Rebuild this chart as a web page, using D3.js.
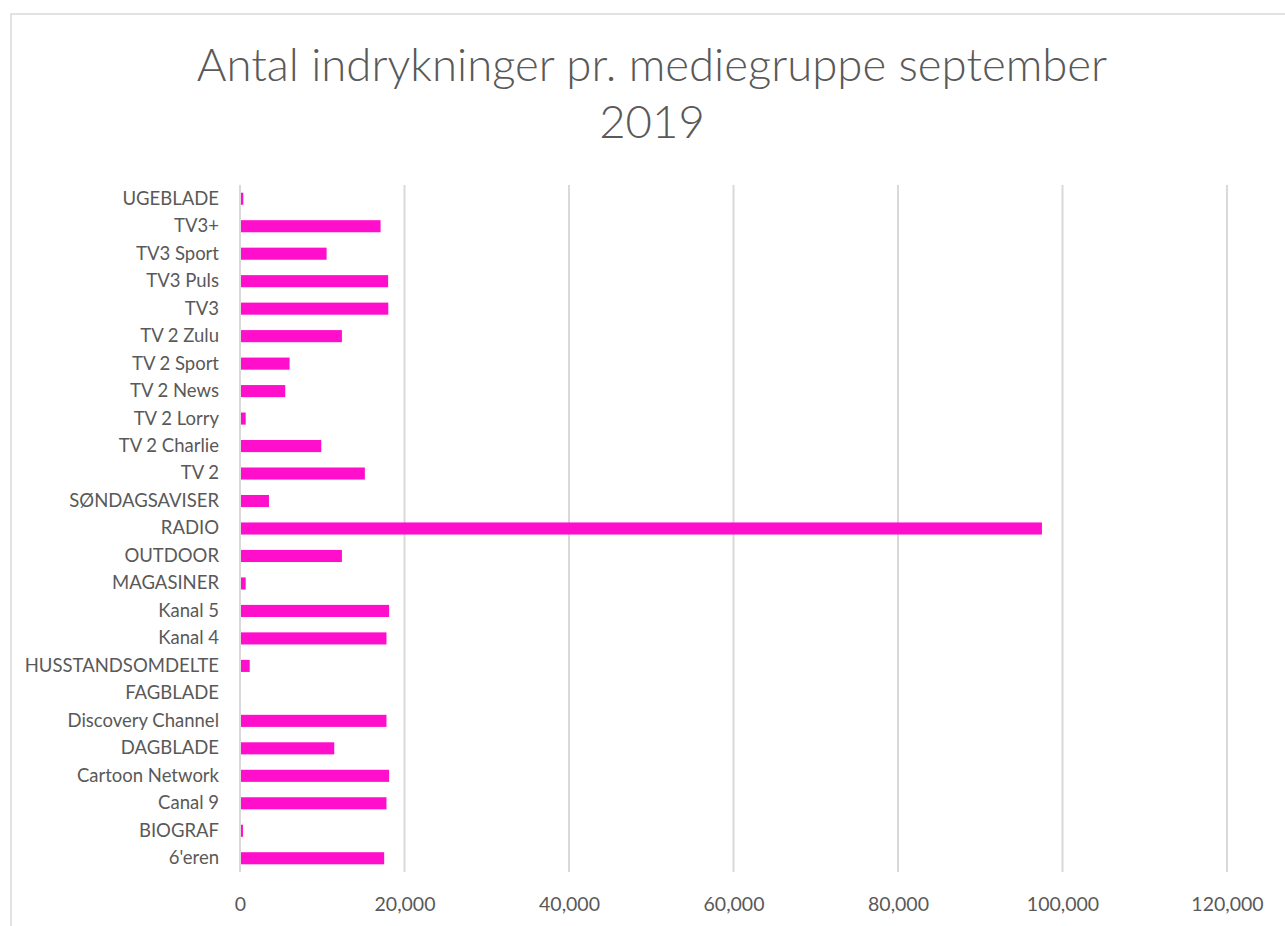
<!DOCTYPE html>
<html>
<head>
<meta charset="utf-8">
<script src="https://cdn.jsdelivr.net/npm/d3@7"></script>
<style>
  body { margin: 0; background: #fff; }
  svg { display: block; font-family: Lato, "Open Sans", sans-serif; }
</style>
</head>
<body>
<svg id="chart"></svg>
<script>
const width = 1285;
const height = 926;
const margin = { top: 185, right: 58, bottom: 54, left: 240 };

// categories as Excel lists them (bottom to top)
const categories = ["6'eren", "BIOGRAF", "Canal 9", "Cartoon Network", "DAGBLADE",
  "Discovery Channel", "FAGBLADE", "HUSSTANDSOMDELTE", "Kanal 4", "Kanal 5",
  "MAGASINER", "OUTDOOR", "RADIO", "SØNDAGSAVISER", "TV 2", "TV 2 Charlie",
  "TV 2 Lorry", "TV 2 News", "TV 2 Sport", "TV 2 Zulu", "TV3", "TV3 Puls",
  "TV3 Sport", "TV3+", "UGEBLADE"];
const values = [17530, 360, 17810, 18130, 11460,
  17810, 0, 1180, 17810, 18130,
  690, 12390, 97500, 3520, 15180, 9880,
  690, 5500, 6030, 12390, 18030, 18010,
  10530, 17090, 400];
const xTicks = [0, 20000, 40000, 60000, 80000, 100000, 120000];
const titleLines = ["Antal indrykninger pr. mediegruppe september", "2019"];

const data = categories.map((c, i) => ({ name: c, value: values[i] }));

const svg = d3.select("#chart")
  .attr("width", width)
  .attr("height", height);

// chart area border
svg.append("rect")
  .attr("x", 11).attr("y", 14)
  .attr("width", width + 20).attr("height", height + 20)
  .attr("fill", "none")
  .attr("stroke", "#d9d9d9")
  .attr("stroke-width", 1.5);

svg.append("text")
  .attr("x", 652)
  .attr("y", 81)
  .attr("text-anchor", "middle")
  .attr("fill", "#595959")
  .style("font-size", "45.5px")
  .style("font-weight", 300)
  .selectAll("tspan")
  .data(titleLines)
  .enter()
  .append("tspan")
  .attr("x", 652)
  .attr("dy", (d, i) => i === 0 ? 0 : 57)
  .text(d => d);

const xScale = d3.scaleLinear()
  .domain([0, 120000])
  .range([margin.left, width - margin.right]);

const yScale = d3.scaleBand()
  .domain(categories.slice().reverse())
  .range([margin.top, height - margin.bottom])
  .paddingInner(0.56)
  .paddingOuter(0.28);

const plotBottom = height - margin.bottom;

// gridlines
svg.append("g")
  .selectAll("line")
  .data(xTicks)
  .enter()
  .append("line")
  .attr("x1", d => xScale(d))
  .attr("x2", d => xScale(d))
  .attr("y1", margin.top)
  .attr("y2", plotBottom)
  .attr("stroke", "#d9d9d9")
  .attr("stroke-width", 2);

const xAxis = d3.axisBottom(xScale)
  .tickValues(xTicks)
  .tickFormat(d3.format(","))
  .tickSize(0)
  .tickPadding(25);

const gx = svg.append("g")
  .attr("transform", "translate(0," + plotBottom + ")")
  .call(xAxis);
gx.select(".domain").remove();
gx.selectAll("text")
  .attr("fill", "#595959")
  .style("font-size", "19.5px")
  .style("font-family", "Lato, 'Open Sans', sans-serif");

const yAxis = d3.axisLeft(yScale)
  .tickSize(0)
  .tickPadding(21);

const gy = svg.append("g")
  .attr("transform", "translate(" + margin.left + ",0)")
  .call(yAxis);
gy.select(".domain").remove();
gy.selectAll("text")
  .attr("fill", "#595959")
  .style("font-size", "18.5px")
  .style("font-family", "Lato, 'Open Sans', sans-serif");

svg.append("g")
  .selectAll("rect")
  .data(data)
  .enter()
  .append("rect")
  .attr("x", xScale(0) + 1)
  .attr("y", d => yScale(d.name))
  .attr("width", d => Math.max(0, xScale(d.value) - xScale(0) - 1))
  .attr("height", yScale.bandwidth())
  .attr("fill", "#ff0fcc");
</script>
</body>
</html>
